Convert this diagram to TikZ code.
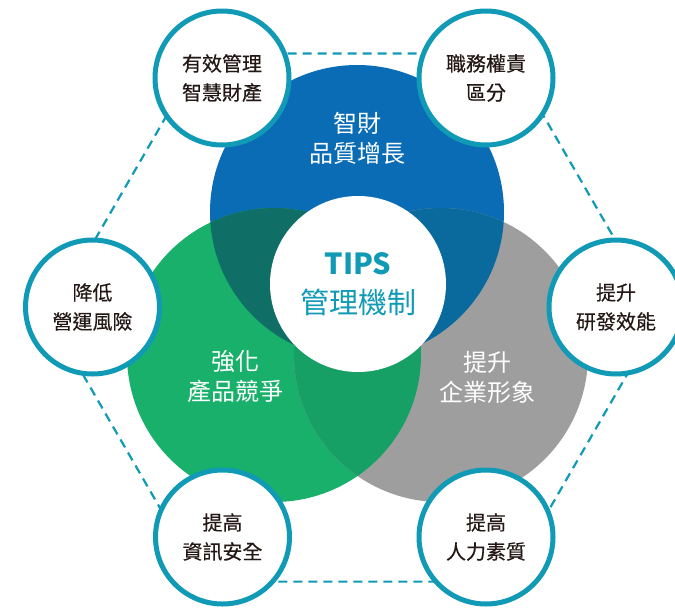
\documentclass[tikz,border=0pt]{standalone}
\usepackage{fontspec}
\newfontfamily\cjk{Noto Sans CJK TC}
\newfontfamily\cjkm{Noto Sans CJK TC}[FakeBold=0.35]
\definecolor{cblue}{HTML}{0A6CB5}
\definecolor{cgreen}{HTML}{18B06A}
\definecolor{cgray}{HTML}{9E9E9E}
\definecolor{cbg}{HTML}{0F6E66}
\definecolor{cby}{HTML}{0A6A9E}
\definecolor{cgy}{HTML}{17A066}
\definecolor{cbgy}{HTML}{0C6A5E}
\definecolor{cteal}{HTML}{109AB5}
\definecolor{ctext}{HTML}{231815}
\tikzset{
  smallc/.style={circle, draw=cteal, line width=5pt, fill=white, minimum size=134pt, inner sep=0pt,
    align=center, text=ctext, font=\cjkm\fontsize{20}{29}\selectfont},
  biglabel/.style={align=center, text=white, font=\cjk\fontsize{24}{30}\selectfont},
  hexline/.style={draw=cteal, line width=2.2pt, dash pattern=on 9pt off 6pt}
}
\begin{document}
\begin{tikzpicture}[x=1pt,y=-1pt]
\useasboundingbox (0,0) rectangle (675,608);
% dashed hexagon
\coordinate (h1) at (660,317.5);
\coordinate (h2) at (507.5,581.6);
\coordinate (h3) at (202.5,581.6);
\coordinate (h4) at (50,317.5);
\coordinate (h5) at (202.5,53.4);
\coordinate (h6) at (507.5,53.4);
\draw[hexline] (h1) -- (h2) -- (h3) -- (h4) -- (h5) -- (h6) -- cycle;
% big circles
\coordinate (B) at (357,212);
\coordinate (G) at (274,355);
\coordinate (Y) at (441,355);
\fill[cblue] (B) circle (147pt);
\fill[cgreen] (G) circle (147pt);
\fill[cgray] (Y) circle (147pt);
\begin{scope}
  \clip (B) circle (147pt);
  \fill[cbg] (G) circle (147pt);
\end{scope}
\begin{scope}
  \clip (B) circle (147pt);
  \fill[cby] (Y) circle (147pt);
\end{scope}
\begin{scope}
  \clip (G) circle (147pt);
  \fill[cgy] (Y) circle (147pt);
\end{scope}
\begin{scope}
  \clip (B) circle (147pt);
  \clip (G) circle (147pt);
  \fill[cbgy] (Y) circle (147pt);
\end{scope}
% labels in big circles
\node[biglabel] (lb) at (357,138) {智財\\品質增長};
\node[biglabel] (lg) at (235,377) {強化\\產品競爭};
\node[biglabel] (ly) at (487.5,377) {提升\\企業形象};
% centre
\node[circle, fill=white, minimum size=176pt, inner sep=0pt, align=center, text=cteal,
  font=\cjk\fontsize{29}{39}\selectfont] (c) at (358,284) {{\bfseries TIPS}\\管理機制};
% small circles
\node[smallc] (tl) at (222,78) {有效管理\\智慧財產};
\node[smallc] (tr) at (486,78) {職務權責\\區分};
\node[smallc] (l) at (92.5,307) {降低\\營運風險};
\node[smallc] (r) at (616,307) {提升\\研發效能};
\node[smallc] (bl) at (222.5,537) {提高\\資訊安全};
\node[smallc] (br) at (486,537) {提高\\人力素質};
\end{tikzpicture}
\end{document}
